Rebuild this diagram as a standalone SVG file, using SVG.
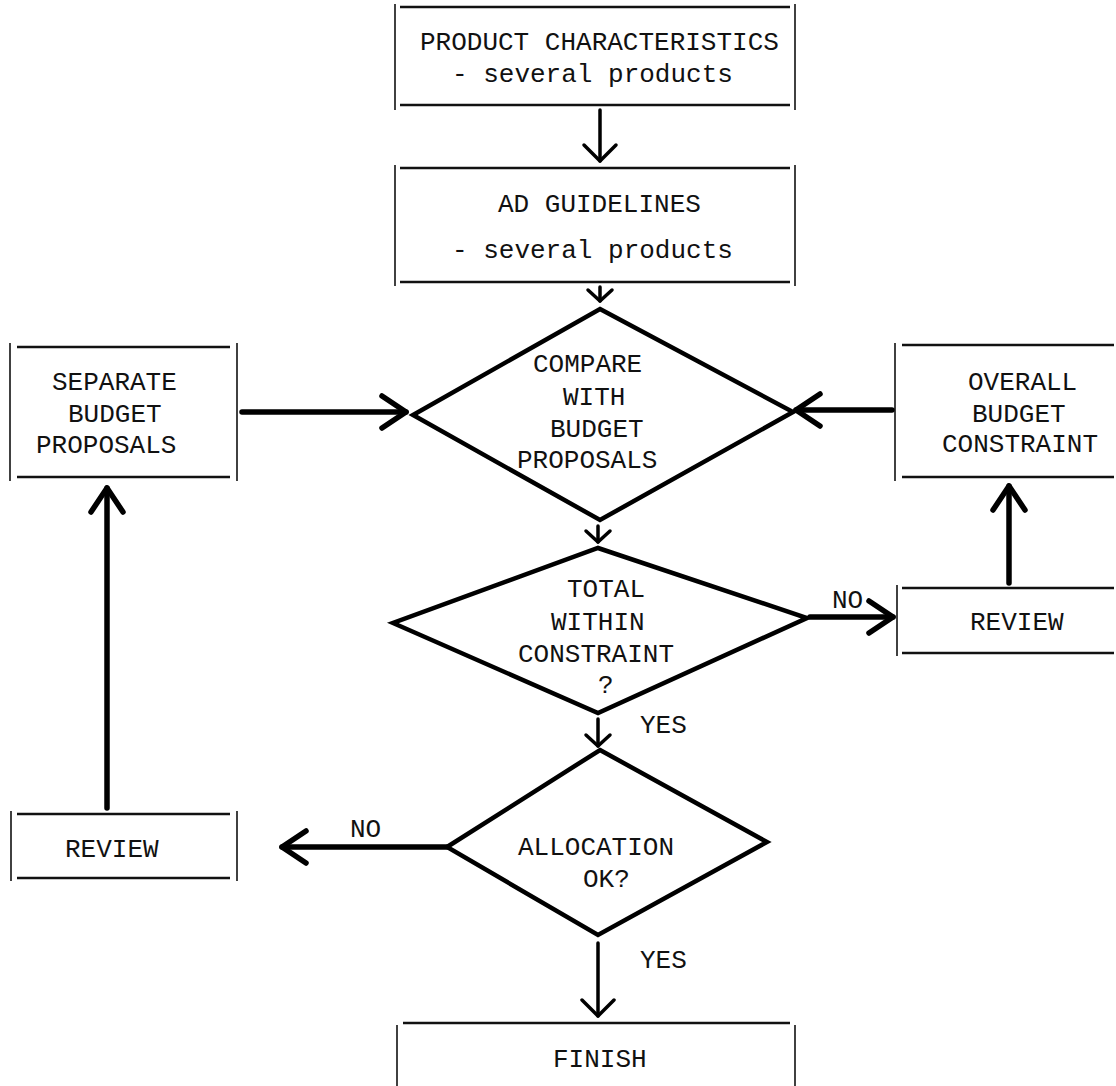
<svg xmlns="http://www.w3.org/2000/svg" width="1116" height="1086" viewBox="0 0 1116 1086">
<style>
text{font-family:"Liberation Mono","DejaVu Sans Mono",monospace;font-size:26px;fill:#111}
.side{stroke:#111;stroke-width:1.6;fill:none}
.edge{stroke:#111;stroke-width:2.6;fill:none}
.dia{stroke:#000;stroke-width:4.5;fill:none;stroke-linejoin:miter}
.thick{stroke:#000;stroke-width:5.5;fill:none;stroke-linecap:round}
.thin{stroke:#000;stroke-width:3.5;fill:none;stroke-linecap:round}
</style>
<defs>
<marker id="ahT" markerUnits="userSpaceOnUse" markerWidth="60" markerHeight="60" viewBox="-30 -30 60 60" refX="0" refY="0" orient="auto" overflow="visible">
<path d="M-24,-16 L0,0 L-24,16" fill="none" stroke="#000" stroke-width="5.5" stroke-linecap="round" stroke-linejoin="round"/>
</marker>
<marker id="ahM" markerUnits="userSpaceOnUse" markerWidth="60" markerHeight="60" viewBox="-30 -30 60 60" refX="0" refY="0" orient="auto" overflow="visible">
<path d="M-16,-16 L0,0 L-16,16" fill="none" stroke="#000" stroke-width="3.5" stroke-linecap="round" stroke-linejoin="round"/>
</marker>
<marker id="ahS" markerUnits="userSpaceOnUse" markerWidth="40" markerHeight="40" viewBox="-20 -20 40 40" refX="0" refY="0" orient="auto" overflow="visible">
<path d="M-11,-12 L0,0 L-11,12" fill="none" stroke="#000" stroke-width="3.5" stroke-linecap="round" stroke-linejoin="round"/>
</marker>
</defs>
<rect width="1116" height="1086" fill="#fff"/>

<g id="product-characteristics">
<line class="side" x1="395" y1="4" x2="395" y2="110"/>
<line class="side" x1="795" y1="4" x2="795" y2="110"/>
<line class="edge" x1="400" y1="7" x2="790" y2="7"/>
<line class="edge" x1="400" y1="105" x2="790" y2="105"/>
<text x="420" y="50">PRODUCT CHARACTERISTICS</text>
<text x="452" y="82">- several products</text>
</g>

<g id="ad-guidelines">
<line class="side" x1="395" y1="165" x2="395" y2="286"/>
<line class="side" x1="795" y1="165" x2="795" y2="286"/>
<line class="edge" x1="400" y1="168" x2="790" y2="168"/>
<line class="edge" x1="400" y1="282" x2="790" y2="282"/>
<text x="498" y="212">AD GUIDELINES</text>
<text x="452" y="258">- several products</text>
</g>

<g id="compare">
<polygon class="dia" points="600,309 793,412 600,520 413,415"/>
<text x="533" y="372">COMPARE</text>
<text x="563" y="405">WITH</text>
<text x="550" y="437">BUDGET</text>
<text x="517" y="468">PROPOSALS</text>
</g>

<g id="separate-budget">
<line class="side" x1="10" y1="343" x2="10" y2="481"/>
<line class="side" x1="237" y1="343" x2="237" y2="481"/>
<line class="edge" x1="17" y1="347" x2="230" y2="347"/>
<line class="edge" x1="17" y1="477" x2="230" y2="477"/>
<text x="52" y="390">SEPARATE</text>
<text x="68" y="422">BUDGET</text>
<text x="36" y="453">PROPOSALS</text>
</g>

<g id="overall-budget">
<line class="side" x1="895" y1="343" x2="895" y2="481"/>
<line class="edge" x1="902" y1="345" x2="1114" y2="345"/>
<line class="edge" x1="902" y1="477" x2="1114" y2="477"/>
<text x="968" y="390">OVERALL</text>
<text x="972" y="422">BUDGET</text>
<text x="942" y="452">CONSTRAINT</text>
</g>

<g id="total-within">
<polygon class="dia" points="598,548 807,618 598,713 393,623"/>
<text x="567" y="597">TOTAL</text>
<text x="551" y="630">WITHIN</text>
<text x="518" y="662">CONSTRAINT</text>
<text x="598" y="693">?</text>
</g>

<g id="review-right">
<line class="side" x1="897" y1="585" x2="897" y2="656"/>
<line class="edge" x1="902" y1="588" x2="1114" y2="588"/>
<line class="edge" x1="902" y1="653" x2="1114" y2="653"/>
<text x="970" y="630">REVIEW</text>
</g>

<g id="allocation">
<polygon class="dia" points="600,750 767,842 598,935 447,847"/>
<text x="518" y="855">ALLOCATION</text>
<text x="583" y="887">OK?</text>
</g>

<g id="review-left">
<line class="side" x1="11" y1="811" x2="11" y2="881"/>
<line class="side" x1="237" y1="811" x2="237" y2="881"/>
<line class="edge" x1="17" y1="814" x2="230" y2="814"/>
<line class="edge" x1="17" y1="878" x2="230" y2="878"/>
<text x="65" y="857">REVIEW</text>
</g>

<g id="finish">
<line class="side" x1="397" y1="1025" x2="397" y2="1086"/>
<line class="side" x1="795" y1="1025" x2="795" y2="1086"/>
<line class="edge" x1="403" y1="1023" x2="790" y2="1023"/>
<text x="553" y="1067">FINISH</text>
</g>

<g id="connectors">
<line class="thin" x1="600" y1="110" x2="600" y2="161" marker-end="url(#ahM)"/>
<line class="thin" x1="600" y1="287" x2="600" y2="301" marker-end="url(#ahS)"/>
<line class="thick" x1="242" y1="412" x2="406" y2="412" marker-end="url(#ahT)"/>
<line class="thick" x1="892" y1="410" x2="796" y2="410" marker-end="url(#ahT)"/>
<line class="thin" x1="598" y1="526" x2="598" y2="542" marker-end="url(#ahS)"/>
<line class="thick" x1="810" y1="617" x2="893" y2="617" marker-end="url(#ahT)"/>
<line class="thick" x1="1009" y1="583" x2="1009" y2="486" marker-end="url(#ahT)"/>
<line class="thin" x1="598" y1="719" x2="598" y2="746" marker-end="url(#ahS)"/>
<line class="thick" x1="447" y1="847" x2="282" y2="847" marker-end="url(#ahT)"/>
<line class="thick" x1="107" y1="808" x2="107" y2="488" marker-end="url(#ahT)"/>
<line class="thin" x1="598" y1="943" x2="598" y2="1016" marker-end="url(#ahM)"/>
<text x="832" y="608">NO</text>
<text x="640" y="733">YES</text>
<text x="350" y="837">NO</text>
<text x="640" y="968">YES</text>
</g>
</svg>
